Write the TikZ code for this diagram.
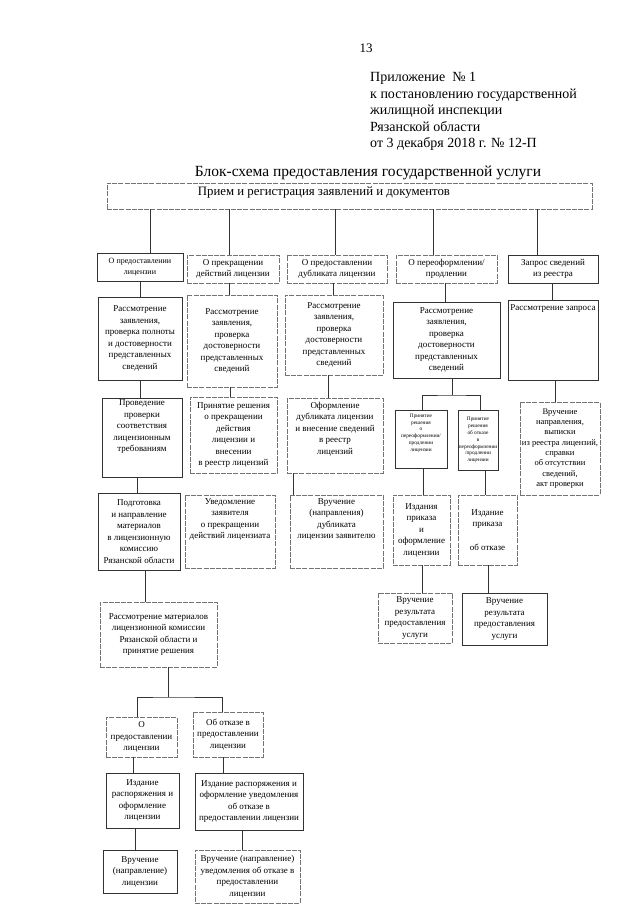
\documentclass[tikz,border=0pt]{standalone}
\usepackage{fontspec}
\setmainfont{Liberation Serif}

\tikzset{
  bx/.style={draw=black!80, line width=0.6pt, align=center, inner sep=1pt, outer sep=0pt,
    font=\fontsize{9}{11.5}\selectfont},
  lbx/.style={bx, draw=black!55, dash pattern=on 5pt off 1.2pt},
  tx/.style={align=center, inner sep=1pt, font=\fontsize{9}{11.5}\selectfont},
  tiny/.style={font=\fontsize{5.3}{6.8}\selectfont},
  ln/.style={draw=black!80, line width=0.6pt},
}

\begin{document}
\begin{tikzpicture}[x=1pt, y=-1pt]
\useasboundingbox (0,0) rectangle (640,905);

% Header
\node[font=\fontsize{13}{15}\selectfont] (pg) at (366,48) {13};
\node[anchor=north west, align=left, inner sep=0pt, font=\fontsize{14}{16.6}\selectfont] (app) at (370,72)
  {Приложение \ № 1\\ к постановлению государственной\\ жилищной инспекции\\ Рязанской области\\ от 3 декабря 2018 г. № 12-П};
\node[font=\fontsize{15.5}{18}\selectfont] (title) at (368,173) {Блок-схема предоставления государственной услуги};

% Reception
\node[lbx, minimum width=485, minimum height=26] (reg) at (349.5,196) {};
\node[tx, font=\fontsize{12.8}{14}\selectfont] (regt) at (324,192) {Прием и регистрация заявлений и документов};

% Row 1: kinds of applications
\node[bx, minimum width=86, minimum height=28, font=\fontsize{8}{11}\selectfont] (b1) at (140,267) {О предоставлении\\лицензии};
\node[lbx, minimum width=92, minimum height=28] (b2) at (233,269) {О прекращении\\действий лицензии};
\node[lbx, minimum width=100, minimum height=28] (b3) at (337,269) {О предоставлении\\дубликата лицензии};
\node[lbx, minimum width=101, minimum height=28] (b4) at (446.5,269) {О переоформлении/\\продлении};
\node[bx, minimum width=90, minimum height=28] (b5) at (553,269) {Запрос сведений\\из реестра};

% Row 2
\node[bx, minimum width=84, minimum height=83] (c1) at (140,338.5)
  {Рассмотрение\\заявления,\\проверка полноты\\и достоверности\\представленных\\сведений};
\node[lbx, minimum width=90, minimum height=92] (c2) at (232,341)
  {Рассмотрение\\заявления,\\проверка\\достоверности\\представленных\\сведений};
\node[lbx, minimum width=98, minimum height=80] (c3) at (334,335)
  {Рассмотрение\\заявления,\\проверка\\достоверности\\представленных\\сведений};
\node[bx, minimum width=107, minimum height=76] (c4) at (446.5,340)
  {Рассмотрение\\заявления,\\проверка\\достоверности\\представленных\\сведений};
\node[bx, minimum width=90, minimum height=80] (c5) at (553,340) {};
\node[tx, anchor=north] (c5t) at ([yshift=-3pt]c5.north) {Рассмотрение запроса};

% Row 3
\node[bx, minimum width=80, minimum height=79] (d1) at (142,437.5)
  {Проведение\\проверки\\соответствия\\лицензионным\\требованиям\\[12pt]};
\node[lbx, minimum width=87, minimum height=76] (d2) at (233.5,435)
  {Принятие решения\\о прекращении\\действия\\лицензии и\\внесении\\в реестр лицензий};
\node[lbx, minimum width=96, minimum height=75] (d3) at (335,435.5)
  {Оформление\\дубликата лицензии\\и внесение сведений\\в реестр\\лицензий\\[3pt]};
\node[bx, tiny, minimum width=52, minimum height=58] (e1) at (421,439)
  {Принятие\\решения\\о\\переоформлении/\\продлении\\лицензии\\[6pt]};
\node[bx, tiny, minimum width=38, minimum height=60] (e2) at (478,440)
  {Принятие\\решения\\об отказе\\в\\переоформлении\\/продлении\\лицензии};
\node[lbx, minimum width=80, minimum height=93, font=\fontsize{8.5}{10.3}\selectfont] (d5) at (560,448.5)
  {Вручение\\направления,\\выписки\\из реестра лицензий,\\справки\\об отсутствии\\сведений,\\акт проверки};

% Row 4
\node[bx, minimum width=82, minimum height=77] (f1) at (139,531.5)
  {Подготовка\\и направление\\материалов\\в лицензионную\\комиссию\\Рязанской области};
\node[lbx, minimum width=90, minimum height=73] (f2) at (230,531.5) {};
\node[tx, anchor=north] (f2t) at ([yshift=-2pt]f2.north) {Уведомление\\заявителя\\о прекращении\\действий лицензиата};
\node[lbx, minimum width=93, minimum height=73] (f3) at (336.5,531.5) {};
\node[tx, anchor=north] (f3t) at ([yshift=-2pt]f3.north) {Вручение\\(направления)\\дубликата\\лицензии заявителю};
\node[lbx, minimum width=57, minimum height=70] (g1) at (421.5,530)
  {Издания\\приказа\\и\\оформление\\лицензии};
\node[lbx, minimum width=59, minimum height=70] (g2) at (487.5,530)
  {Издание\\приказа\\[12pt]об отказе};

% Row 5 (right)
\node[lbx, minimum width=74, minimum height=50] (h1) at (415,618)
  {Вручение\\результата\\предоставления\\услуги};
\node[bx, minimum width=85, minimum height=52] (h2) at (504.5,619)
  {Вручение\\результата\\предоставления\\услуги};

% Commission and decisions (left)
\node[lbx, minimum width=117, minimum height=65] (i) at (158.5,634.5)
  {Рассмотрение материалов\\лицензионной комиссии\\Рязанской области и\\принятие решения};
\node[lbx, minimum width=71, minimum height=40] (j1) at (141.5,737)
  {О\\предоставлении\\лицензии};
\node[lbx, minimum width=70, minimum height=45] (j2) at (228,734.5)
  {Об отказе в\\предоставлении\\лицензии};
\node[bx, minimum width=73, minimum height=55] (k1) at (142.5,800.5)
  {Издание\\распоряжения и\\оформление\\лицензии};
\node[bx, minimum width=108, minimum height=57] (k2) at (249,801.5)
  {Издание распоряжения и\\оформление уведомления\\об отказе в\\предоставлении лицензии};
\node[bx, minimum width=74, minimum height=43] (l1) at (140,871.5)
  {Вручение\\(направление)\\лицензии};
\node[lbx, minimum width=105, minimum height=53] (l2) at (247.5,876.5)
  {Вручение (направление)\\уведомления об отказе в\\предоставлении\\лицензии};

% Connectors
\foreach \n/\x in {b1/150, b2/229, b3/335, b4/433, b5/537}
  \draw[ln] (reg.south -| \x,0) -- (\n.north -| \x,0);
\foreach \a/\b/\x in {b1/c1/140, b2/c2/229, b3/c3/333, b4/c4/445, b5/c5/552,
                      c1/d1/140, c2/d2/230, c3/d3/328, c5/d5/555,
                      d1/f1/137, d3/f3/293, e1/g1/423, e2/g2/485,
                      g1/h1/422, g2/h2/488, f1/i/145,
                      j1/k1/133, j2/k2/223, k1/l1/135, k2/l2/242}
  \draw[ln] (\a.south -| \x,0) -- (\b.north -| \x,0);

% Branches
\coordinate (c4s) at (452,395);
\draw[ln] (c4.south -| c4s) -- (c4s);
\draw[ln] (e1.north -| 422,0) |- (c4s) -| (e2.north -| 480,0);
\coordinate (is) at (168,697);
\draw[ln] (i.south -| is) -- (is);
\draw[ln] (j1.north -| 137,0) |- (is) -| (j2.north -| 222,0);

\end{tikzpicture}
\end{document}
